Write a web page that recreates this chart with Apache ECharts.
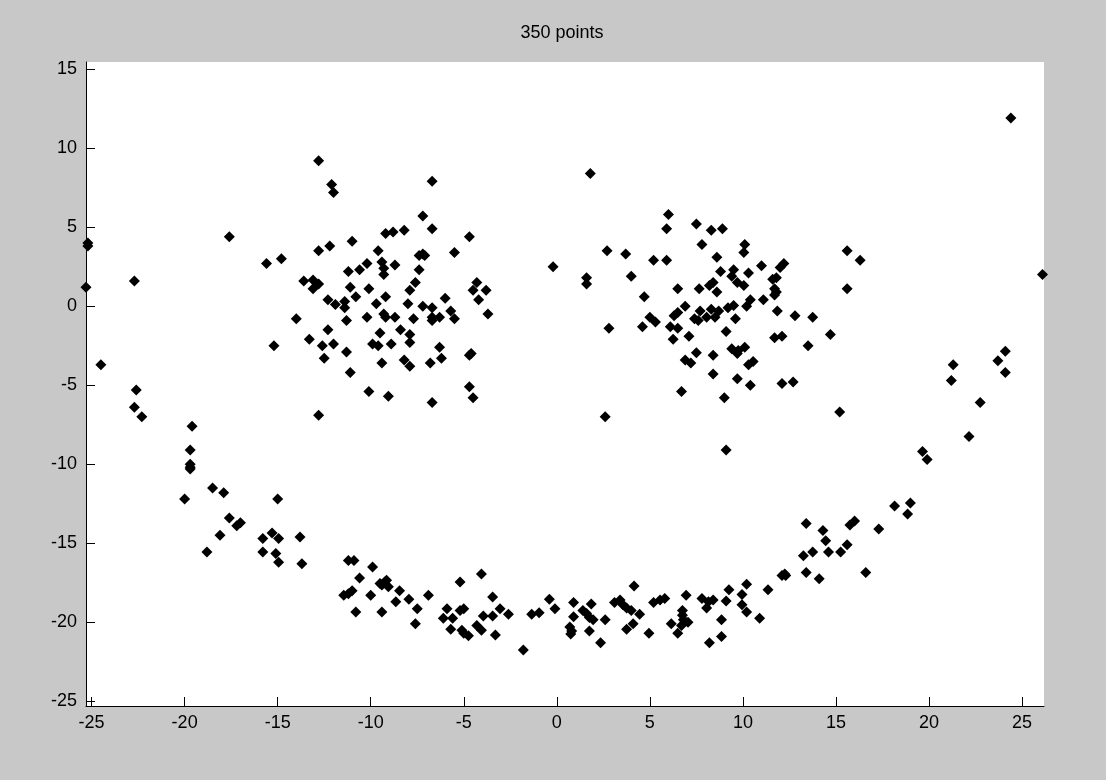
<!DOCTYPE html>
<html>
<head>
<meta charset="utf-8">
<title>350 points</title>
<script src="https://cdn.jsdelivr.net/npm/echarts@6.0.0/dist/echarts.min.js"></script>
<style>
  html, body { margin: 0; padding: 0; background: #c8c8c8; }
  #chart { width: 1106px; height: 780px; }
</style>
</head>
<body>
<div id="chart"></div>
<script>
// tick labels
const xTicks = [-25, -20, -15, -10, -5, 0, 5, 10, 15, 20, 25]
const yTicks = [-25, -20, -15, -10, -5, 0, 5, 10, 15]

// scattered points away from the face
const outliers = [
  [-25.2, 4.0], [-25.2, 3.8], [-25.3, 1.2], [-24.5, -3.7], [-22.7, 1.6], [-22.6, -5.3],
  [-22.7, -6.4], [-22.3, -7.0], [-17.6, 4.4], [-15.6, 2.7], [-14.8, 3.0], [-15.2, -2.5],
  [-12.8, 9.2], [-12.1, 7.7], [-12.0, 7.2], [-6.7, 7.9], [-12.8, -6.9], [-6.7, -6.1],
  [1.8, 8.4], [-0.2, 2.5], [1.6, 1.8], [1.6, 1.4], [2.7, 3.5], [2.8, -1.4], [2.6, -7.0],
  [24.4, 11.9], [26.1, 2.0], [15.2, -6.7], [9.1, -9.1], [16.3, 2.9], [15.6, 3.5], [15.6, 1.1]
]

// left eye
const leftEye = [
  [-7.2, 5.7], [-6.7, 4.9], [-8.2, 4.8], [-8.8, 4.7], [-9.2, 4.6], [-4.7, 4.4], [-11.0, 4.1],
  [-12.2, 3.8], [-12.8, 3.5], [-9.6, 3.5], [-7.2, 3.3], [-7.4, 3.2], [-7.1, 3.2], [-5.5, 3.4],
  [-10.2, 2.7], [-10.6, 2.3], [-11.2, 2.2], [-9.4, 2.8], [-9.3, 2.4], [-9.3, 2.0], [-8.7, 2.6],
  [-7.4, 2.3], [-13.6, 1.6], [-13.1, 1.65], [-12.8, 1.4], [-13.1, 1.1], [-11.1, 1.2], [-10.1, 1.1],
  [-7.6, 1.5], [-7.9, 1.0], [-4.3, 1.5], [-4.5, 1.0], [-3.8, 1.0], [-10.8, 0.6], [-9.2, 0.6],
  [-6.0, 0.5], [-4.2, 0.4], [-12.3, 0.4], [-11.9, 0.1], [-11.4, 0.3], [-11.4, -0.1], [-9.7, 0.15],
  [-8.0, 0.15], [-7.2, 0.0], [-6.7, -0.1], [-14.0, -0.8], [-11.3, -0.9], [-10.2, -0.7], [-9.3, -0.5],
  [-9.2, -0.7], [-8.7, -0.7], [-7.7, -0.8], [-6.7, -0.7], [-6.3, -0.7], [-6.7, -0.9], [-5.7, -0.3],
  [-5.5, -0.8], [-3.7, -0.5], [-12.3, -1.5], [-9.5, -1.7], [-8.4, -1.5], [-7.9, -1.8], [-7.9, -2.3],
  [-13.3, -2.1], [-12.6, -2.5], [-12.0, -2.4], [-9.9, -2.4], [-9.6, -2.5], [-8.9, -2.4], [-6.3, -2.6],
  [-11.3, -2.9], [-4.7, -3.1], [-4.6, -3.0], [-6.2, -3.3], [-12.5, -3.3], [-9.4, -3.6], [-8.2, -3.4],
  [-7.9, -3.8], [-6.8, -3.6], [-11.1, -4.2], [-10.1, -5.4], [-9.05, -5.7], [-4.7, -5.1], [-4.5, -5.8]
]

// right eye
const rightEye = [
  [6.0, 5.8], [5.9, 4.9], [7.5, 5.2], [8.3, 4.8], [8.9, 4.9], [3.7, 3.3], [5.2, 2.9], [5.9, 2.9],
  [7.8, 3.9], [10.1, 3.9], [10.05, 3.4], [8.6, 3.1], [11.0, 2.55], [12.2, 2.7], [12.0, 2.45],
  [4.0, 1.9], [8.8, 2.2], [9.5, 2.3], [9.4, 1.9], [9.7, 1.5], [10.3, 2.1], [11.8, 1.8], [11.6, 1.7],
  [10.05, 1.3], [6.5, 1.1], [7.65, 1.1], [8.2, 1.3], [8.4, 1.5], [8.6, 0.9], [11.7, 1.1], [11.8, 0.9],
  [11.7, 0.7], [4.7, 0.6], [11.1, 0.4], [10.4, 0.4], [6.5, -0.4], [6.3, -0.6], [6.9, 0.0], [7.7, -0.3],
  [8.3, -0.2], [8.7, -0.3], [9.2, -0.1], [9.5, 0.05], [10.2, 0.0], [7.4, -0.8], [7.6, -0.9],
  [8.05, -0.7], [8.5, -0.7], [9.6, -0.8], [11.85, -0.3], [12.8, -0.6], [13.75, -0.7], [5.0, -0.7],
  [4.6, -1.3], [5.3, -1.0], [6.1, -1.3], [6.5, -1.4], [6.25, -2.1], [7.1, -1.9], [9.1, -1.6],
  [11.7, -2.0], [12.1, -1.9], [14.7, -1.8], [13.5, -2.5], [9.4, -2.7], [9.75, -2.8], [10.1, -2.6],
  [9.7, -3.0], [7.5, -2.95], [8.4, -3.1], [6.9, -3.4], [7.2, -3.6], [10.3, -3.7], [10.55, -3.5],
  [8.4, -4.3], [9.7, -4.6], [10.4, -5.0], [12.1, -4.9], [12.7, -4.8], [6.7, -5.4], [9.0, -5.8]
]

// mouth, left to right
const smileLeft = [
  [-19.6, -7.6], [-19.7, -9.1], [-19.7, -10.0], [-19.7, -10.2], [-19.7, -10.3], [-20.0, -12.2],
  [-18.5, -11.5], [-17.9, -11.8], [-15.0, -12.2], [-17.6, -13.4], [-17.2, -13.9], [-17.0, -13.7],
  [-18.1, -14.5], [-18.8, -15.55], [-15.8, -14.7], [-15.3, -14.35], [-14.95, -14.7], [-13.8, -14.6],
  [-15.8, -15.55], [-15.1, -15.65], [-14.95, -16.2], [-13.7, -16.3]
]

const smileMid = [
  [-11.2, -16.1], [-10.9, -16.1], [-9.9, -16.5], [-10.6, -17.2], [-9.5, -17.55], [-9.25, -17.45],
  [-9.15, -17.35], [-9.05, -17.75], [-9.4, -17.65], [-11.45, -18.3], [-11.2, -18.2], [-11.0, -18.0],
  [-10.0, -18.3], [-8.45, -18.0], [-8.65, -18.7], [-7.95, -18.55], [-6.9, -18.3], [-7.5, -19.15],
  [-10.8, -19.35], [-9.4, -19.35], [-7.6, -20.1], [-5.2, -17.45], [-4.05, -16.95], [-3.45, -18.4],
  [-5.9, -19.15], [-5.2, -19.25], [-5.0, -19.15], [-6.1, -19.75], [-5.6, -19.75], [-3.05, -19.15],
  [-2.6, -19.5], [-3.95, -19.6], [-3.45, -19.6], [-5.7, -20.45], [-5.1, -20.5], [-5.0, -20.7],
  [-4.75, -20.85], [-4.3, -20.2], [-4.05, -20.5], [-3.3, -20.8], [-1.8, -21.75], [-1.35, -19.5],
  [-0.95, -19.4], [-0.4, -18.55], [-0.1, -19.15]
]

const smileRight = [
  [0.9, -18.75], [1.85, -18.85], [4.15, -17.7], [1.4, -19.25], [1.6, -19.45], [1.75, -19.7],
  [1.95, -19.85], [0.9, -19.65], [2.6, -19.85], [0.7, -20.3], [0.8, -20.55], [0.75, -20.75],
  [1.75, -20.55], [2.35, -21.3], [3.1, -18.75], [3.4, -18.6], [3.55, -18.9], [3.75, -19.1],
  [4.0, -19.25], [4.45, -19.5], [4.1, -20.1], [3.75, -20.45], [4.95, -20.7], [5.2, -18.75],
  [5.55, -18.6], [5.8, -18.5], [6.95, -18.3], [6.15, -20.1], [6.5, -20.7], [6.75, -19.25],
  [6.75, -19.55], [6.8, -19.85], [7.05, -20.0], [6.7, -20.2], [7.8, -18.5], [8.15, -18.7],
  [8.4, -18.6], [8.05, -19.1], [8.2, -21.3], [8.85, -20.9], [8.85, -19.85], [9.1, -18.65],
  [9.25, -17.95], [9.95, -18.25], [9.95, -18.9], [10.2, -17.6], [10.2, -19.35], [10.9, -19.75],
  [11.35, -17.95], [12.25, -16.95], [12.1, -17.05], [12.3, -17.05], [13.4, -16.85], [14.1, -17.25],
  [16.6, -16.85], [13.25, -15.8], [13.75, -15.55], [14.6, -15.55], [15.25, -15.55], [15.6, -15.1],
  [14.45, -14.85], [14.3, -14.2], [13.4, -13.75], [15.75, -13.85], [16.0, -13.6], [17.3, -14.1],
  [18.15, -12.65], [19.0, -12.45], [18.85, -13.15], [19.65, -9.2], [19.9, -9.7], [22.15, -8.25],
  [22.75, -6.1], [21.2, -4.7], [21.3, -3.7], [23.7, -3.45], [24.1, -2.85], [24.1, -4.2]
]

const allPoints = [].concat(outliers, leftEye, rightEye, smileLeft, smileMid, smileRight)

const labelFont = {
  color: '#000',
  fontSize: 18,
  fontFamily: '"Liberation Sans", Arial, sans-serif'
}

let myChart = echarts.init(document.getElementById('chart'))
myChart.setOption({
  animation: false,
  backgroundColor: '#c8c8c8',
  graphic: [
    {
      type: 'text',
      x: 562,
      y: 33,
      style: {
        text: '350 points',
        fill: '#000',
        font: '18px "Liberation Sans", Arial, sans-serif',
        textAlign: 'center',
        align: 'center',
        textVerticalAlign: 'middle',
        verticalAlign: 'middle'
      }
    }
  ],
  grid: {
    left: 86,
    right: 62,
    top: 62,
    bottom: 74,
    show: true,
    backgroundColor: '#fff',
    borderWidth: 0,
    outerBoundsMode: 'none'
  },
  xAxis: {
    type: 'value',
    min: -25.3,
    max: 26.18,
    splitNumber: 10,
    splitLine: { show: false },
    axisLine: { onZero: false, lineStyle: { color: '#000', width: 1 } },
    axisTick: { inside: true, length: 9, lineStyle: { color: '#000' }, customValues: xTicks },
    axisLabel: Object.assign({ margin: 8, customValues: xTicks }, labelFont)
  },
  yAxis: {
    type: 'value',
    min: -25.3,
    max: 15.45,
    splitNumber: 8,
    splitLine: { show: false },
    axisLine: { onZero: false, lineStyle: { color: '#000', width: 1 } },
    axisTick: { inside: true, length: 9, lineStyle: { color: '#000' }, customValues: yTicks },
    axisLabel: Object.assign({ margin: 9, customValues: yTicks }, labelFont)
  },
  series: [
    {
      name: 'points',
      type: 'scatter',
      symbol: 'diamond',
      symbolSize: 11,
      clip: false,
      itemStyle: { color: '#000', opacity: 1 },
      data: allPoints
    }
  ]
})
</script>
</body>
</html>
